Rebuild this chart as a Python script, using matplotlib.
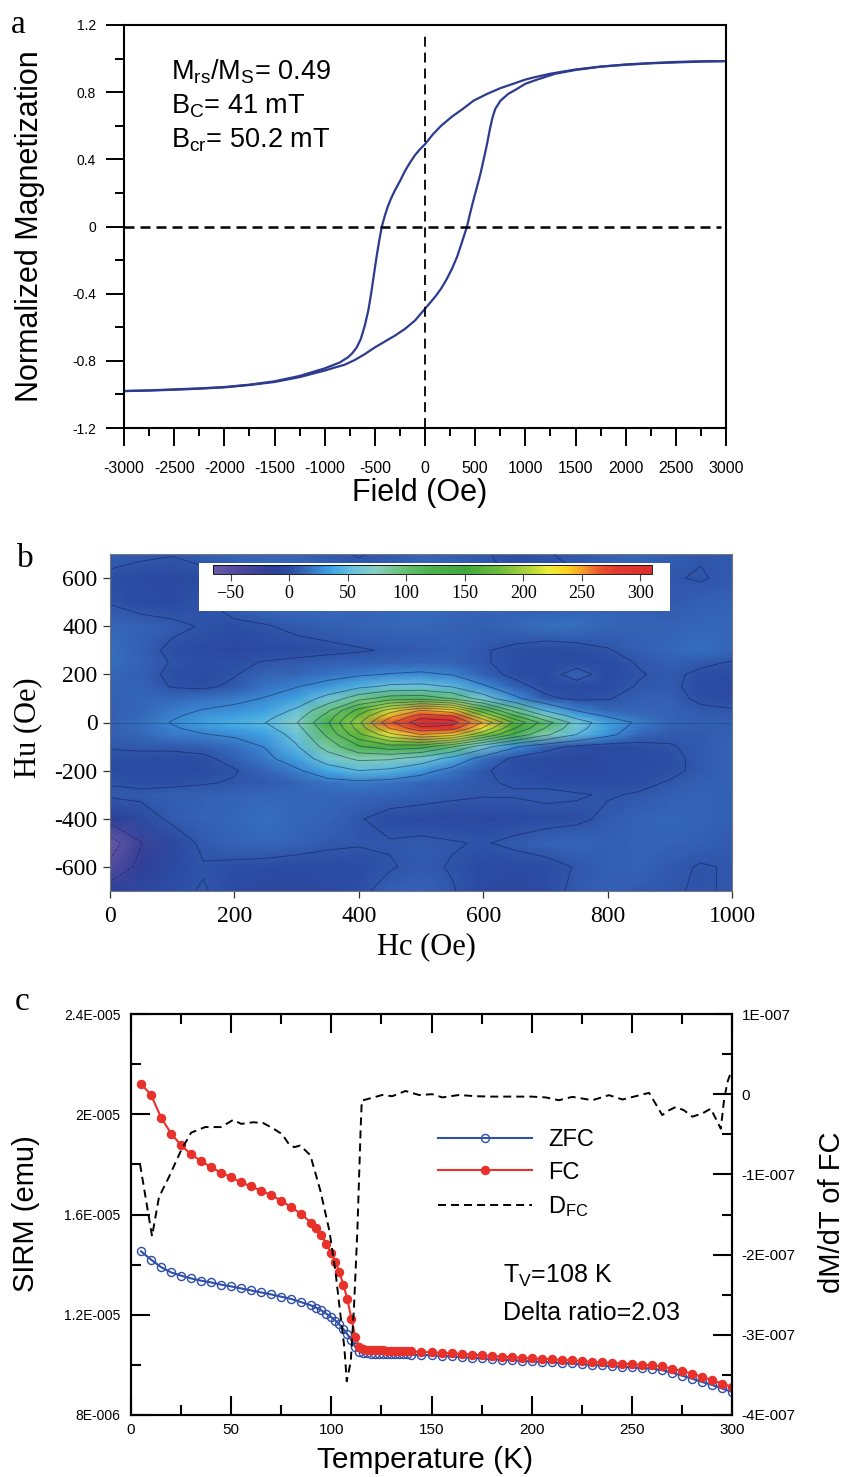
import numpy as np
import matplotlib
matplotlib.use("Agg")
import matplotlib.pyplot as plt
from matplotlib.colors import LinearSegmentedColormap, Normalize
from matplotlib.ticker import MultipleLocator
import matplotlib.cm as cm

plt.rcParams['axes.unicode_minus'] = False
plt.rcParams['font.family'] = 'Liberation Sans'
plt.rcParams['mathtext.fontset'] = 'custom'
plt.rcParams['mathtext.rm'] = 'Liberation Sans'
plt.rcParams['mathtext.it'] = 'Liberation Sans:italic'
plt.rcParams['mathtext.bf'] = 'Liberation Sans:bold'

# ---------------- Panel a : hysteresis loop ----------------
field_down = [3000, 2750, 2500, 2250, 2000, 1750, 1500, 1250, 1100, 1000, 880, 752, 620, 483, 376, 270,
              161, 80, 0, -50, -100, -150, -200, -250, -300, -340, -370, -400, -430, -455,
              -480, -510, -537, -565, -600, -640, -680, -725, -770, -850, -1000, -1250, -1500,
              -1750, -2000, -2250, -2500, -2750, -3000]
mag_down = [0.985, 0.984, 0.98, 0.973, 0.965, 0.952, 0.935, 0.91, 0.89, 0.875, 0.85, 0.824, 0.79,
            0.749, 0.70, 0.655, 0.60, 0.55, 0.49, 0.46, 0.425, 0.38, 0.33, 0.27, 0.215, 0.165, 0.12,
            0.065, 0.0, -0.08, -0.17, -0.29, -0.40, -0.50, -0.59, -0.67, -0.72, -0.755, -0.78,
            -0.81, -0.845, -0.89, -0.922, -0.942, -0.956, -0.964, -0.97, -0.976, -0.98]
field_up = [-3000, -2750, -2500, -2250, -2000, -1750, -1500, -1250, -1000, -900, -800, -700, -600,
            -500, -400, -300, -200, -100, 0, 50, 107, 160, 215, 270, 322, 370, 419, 450, 483, 520,
            553, 585, 618, 645, 671, 700, 752, 830, 913, 1000, 1128, 1300, 1500, 1750, 2000, 2250,
            2500, 2750, 3000]
mag_up = [-0.98, -0.977, -0.972, -0.966, -0.958, -0.944, -0.926, -0.897, -0.858, -0.84, -0.823,
          -0.795, -0.76, -0.72, -0.685, -0.65, -0.61, -0.56, -0.49, -0.455, -0.414, -0.37, -0.315,
          -0.25, -0.177, -0.09, 0.0, 0.08, 0.158, 0.24, 0.315, 0.40, 0.49, 0.575, 0.645, 0.70,
          0.749, 0.79, 0.818, 0.85, 0.877, 0.91, 0.932, 0.952, 0.963, 0.972, 0.977, 0.982, 0.985]
field_ticks = [-3000, -2500, -2000, -1500, -1000, -500, 0, 500, 1000, 1500, 2000, 2500, 3000]
field_labels = ['-3000', '-2500', '-2000', '-1500', '-1000', '-500', '0', '500', '1000', '1500',
                '2000', '2500', '3000']
mag_ticks = [-1.2, -0.8, -0.4, 0, 0.4, 0.8, 1.2]
mag_labels = ['-1.2', '-0.8', '-0.4', '0', '0.4', '0.8', '1.2']
loop_params = [r'M$_{\rm rs}$/M$_{\rm S}$= 0.49', r'B$_{\rm C}$= 41 mT', r'B$_{\rm cr}$= 50.2 mT']

# ---------------- Panel b : FORC diagram ----------------
hc_grid = [0, 50, 100, 150, 200, 250, 300, 350, 400, 450, 500, 550, 600, 650, 700, 750, 800, 850,
           900, 950, 1000]
hu_grid = [-700, -600, -500, -400, -300, -250, -200, -150, -100, -50, -25, 0, 25, 50, 100, 150, 200,
           250, 300, 400, 500, 600, 700]
forc_rows = [
    [-12, -4, 2, 6, 0, -4, -4, -2, 2, 10, 12, 6, -2, -4, 0, 8, 10, 8, 6, 4, 6],
    [-45, -18, -2, 4, 2, 0, -2, -2, 0, 4, 8, 4, -2, -2, 0, 6, 10, 12, 8, 4, 6],
    [-62, -26, -4, 8, 12, 14, 12, 8, 6, 6, 8, 6, 4, 8, 12, 14, 10, 12, 12, 10, 8],
    [-16, -2, 8, 12, 14, 16, 14, 12, 6, 0, -2, -4, -4, -2, 0, 2, 8, 12, 14, 12, 10],
    [8, 8, 10, 10, 12, 14, 14, 14, 14, 12, 10, 8, 6, 6, 8, 6, 4, 6, 10, 12, 10],
    [4, 2, 2, 4, 6, 8, 12, 18, 20, 18, 14, 10, 6, 4, 2, 0, 0, 2, 6, 10, 12],
    [0, -2, -2, 0, 4, 12, 22, 38, 50, 45, 32, 18, 6, 2, -2, -4, -2, 0, 2, 8, 12],
    [2, 0, 0, 2, 10, 20, 36, 62, 80, 78, 64, 42, 16, 2, -2, -4, -2, 0, 2, 8, 12],
    [6, 8, 8, 10, 16, 26, 48, 85, 122, 140, 135, 102, 60, 28, 10, 2, -2, 0, 4, 8, 12],
    [10, 14, 20, 24, 28, 36, 58, 105, 170, 218, 250, 236, 180, 120, 80, 50, 30, 14, 8, 8, 10],
    [10, 15, 23, 30, 35, 43, 66, 114, 185, 250, 292, 285, 220, 150, 98, 58, 34, 18, 10, 9, 10],
    [10, 16, 26, 36, 42, 50, 74, 122, 195, 270, 318, 312, 248, 172, 112, 64, 36, 22, 12, 10, 10],
    [10, 15, 23, 31, 36, 43, 64, 110, 180, 245, 290, 280, 205, 132, 78, 42, 24, 16, 12, 9, 8],
    [10, 14, 20, 26, 30, 36, 54, 96, 160, 212, 252, 236, 160, 92, 48, 24, 14, 12, 12, 8, 6],
    [10, 14, 14, 16, 20, 26, 36, 58, 90, 112, 115, 98, 62, 30, 8, 2, 4, 10, 10, 2, 0],
    [12, 12, 4, 2, 8, 18, 24, 32, 44, 54, 56, 48, 28, 10, 0, -2, 0, 6, 8, 0, -2],
    [14, 10, 2, 0, 4, 12, 14, 18, 22, 26, 28, 24, 10, 2, -2, 12, -2, 4, 8, 2, 0],
    [16, 12, 4, 2, 2, 6, 8, 10, 10, 12, 14, 12, 6, 2, -2, -2, 0, 6, 10, 8, 4],
    [16, 10, 2, -2, -4, -2, 0, 2, 4, 6, 8, 10, 6, 2, -2, 0, 4, 10, 14, 16, 14],
    [14, 12, 8, 4, 2, 4, 8, 10, 12, 14, 14, 12, 10, 14, 16, 16, 14, 12, 12, 14, 14],
    [4, -2, -2, 4, 12, 16, 16, 16, 14, 14, 16, 14, 12, 10, 8, 10, 12, 10, 8, 10, 12],
    [2, -2, -4, 0, 8, 14, 16, 14, 10, 10, 14, 12, 8, 4, 2, 4, 8, 10, 6, 4, 8],
    [10, 8, 6, 10, 14, 14, 12, 8, 4, 8, 12, 10, 6, 2, 4, 8, 12, 14, 10, 6, 8],
]
hc_ticks = [0, 200, 400, 600, 800, 1000]
hc_labels = ['0', '200', '400', '600', '800', '1000']
hu_ticks = [-600, -400, -200, 0, 200, 400, 600]
hu_labels = ['-600', '-400', '-200', '0', '200', '400', '600']
cbar_ticks = [-50, 0, 50, 100, 150, 200, 250, 300]
cbar_labels = ['\u221250', '0', '50', '100', '150', '200', '250', '300']
contour_levels = [-50, -25, 5, 25, 50, 75, 100, 125, 150, 175, 200, 225, 250, 275, 300]
forc_min, forc_max = -65, 310

# ---------------- Panel c : low temperature SIRM ----------------
temps = [5, 10, 15, 20, 25, 30, 35, 40, 45, 50, 55, 60, 65, 70, 75, 80, 85, 90,
         92.5, 95, 97.5,
         100, 102, 104, 106, 108, 110, 112, 114,
         116, 118, 120, 122, 124, 126, 128, 130, 132, 134, 136, 138, 140,
         145, 150, 155, 160, 165, 170, 175, 180, 185, 190, 195, 200, 205, 210, 215, 220, 225,
         230, 235, 240, 245, 250, 255, 260, 265, 270, 275, 280, 285, 290, 295, 300]
sirm_fc = [2.122, 2.077, 1.987, 1.923, 1.876, 1.840, 1.813, 1.789, 1.767, 1.748, 1.729, 1.712, 1.695,
           1.677, 1.655, 1.629, 1.602, 1.566,
           1.545, 1.520, 1.482,
           1.445, 1.412, 1.370, 1.320, 1.262, 1.185, 1.112, 1.073,
           1.063, 1.061, 1.060, 1.059, 1.058, 1.058, 1.057, 1.057, 1.056, 1.056, 1.055, 1.055, 1.054,
           1.052, 1.050, 1.048, 1.046, 1.043, 1.041, 1.038, 1.035, 1.033, 1.031, 1.028, 1.026, 1.024,
           1.022, 1.020, 1.018, 1.015, 1.012, 1.010, 1.007, 1.005, 1.002, 1.000, 0.998, 0.994, 0.985,
           0.976, 0.965, 0.952, 0.939, 0.925, 0.912]
sirm_zfc = [1.453, 1.420, 1.390, 1.369, 1.356, 1.345, 1.336, 1.329, 1.320, 1.313, 1.305, 1.297, 1.289,
            1.281, 1.272, 1.263, 1.250, 1.237,
            1.228, 1.217, 1.204,
            1.190, 1.177, 1.162, 1.143, 1.122, 1.099, 1.071, 1.052,
            1.047, 1.046, 1.045, 1.045, 1.044, 1.044, 1.043, 1.043, 1.043, 1.042, 1.042, 1.042, 1.041,
            1.040, 1.038, 1.036, 1.034, 1.031, 1.029, 1.026, 1.023, 1.021, 1.019, 1.016, 1.014, 1.012,
            1.010, 1.008, 1.006, 1.003, 1.000, 0.998, 0.995, 0.993, 0.990, 0.988, 0.985, 0.979, 0.969,
            0.957, 0.945, 0.932, 0.920, 0.906, 0.892]
sirm_unit = 1e-5
temp_d = [4.5, 10.5, 14, 19, 25, 30, 37, 45, 51, 55, 61, 66, 70.5, 75.5, 79, 81.5, 84.5, 89.5, 94.5, 99,
          102, 104.5, 106.5, 107.7, 109.7, 111.3, 113, 114.6, 115.2, 119.6, 125.4, 130.4, 137, 143.8,
          150.4, 155.4, 163.7, 172, 180, 190, 200, 207, 213.6, 220.3, 230.3, 238.6, 245.3, 251.9,
          258.6, 265.2, 268.6, 271.9, 276, 280.2, 285.2, 289.4, 294.4, 296, 297.7, 299]
dfc = [-0.87, -1.77, -1.28, -1.03, -0.70, -0.48, -0.41, -0.41, -0.32, -0.37, -0.35, -0.36, -0.42, -0.50,
       -0.63, -0.66, -0.64, -0.76, -1.20, -1.70, -2.20, -2.74, -3.16, -3.58, -3.33, -2.66, -1.70, -0.45,
       -0.08, -0.05, -0.01, -0.025, 0.04, -0.01, 0.0, -0.04, -0.01, -0.025, -0.03, -0.03, -0.03, -0.04,
       -0.075, -0.033, -0.075, -0.012, -0.066, -0.025, 0.017, -0.26, -0.20, -0.16, -0.20, -0.28, -0.24,
       -0.18, -0.43, -0.08, 0.15, 0.24]
dfc_unit = 1e-7
temp_ticks = [0, 50, 100, 150, 200, 250, 300]
temp_labels = ['0', '50', '100', '150', '200', '250', '300']
sirm_ticks = [0.8e-5, 1.2e-5, 1.6e-5, 2.0e-5, 2.4e-5]
sirm_labels = ['8E-006', '1.2E-005', '1.6E-005', '2E-005', '2.4E-005']
dfc_ticks = [-4e-7, -3e-7, -2e-7, -1e-7, 0, 1e-7]
dfc_labels = ['-4E-007', '-3E-007', '-2E-007', '-1E-007', '0', '1E-007']
series_names = ['ZFC', 'FC', r'D$_{\rm FC}$']
notes_c = [r'T$_{\rm V}$=108 K', 'Delta ratio=2.03']

# ---------------- figure ----------------
W, H = 848, 1477
fig = plt.figure(figsize=(W / 100, H / 100), dpi=100)


def fx(x):
    return x / W


def fy(y):
    return 1 - y / H


def box(l, t, r, b):
    return [fx(l), fy(b), (r - l) / W, (b - t) / H]


# ===== Panel a =====
ax1 = fig.add_axes(box(124, 25, 726, 428))
navy = '#2c3b8f'
ax1.plot(field_down, mag_down, color=navy, lw=1.6)
ax1.plot(field_up, mag_up, color=navy, lw=1.6)
ax1.axhline(0, xmin=0, xmax=0.992, color='black', lw=1.8, linestyle=(0, (4, 2.4)))
ax1.axvline(0, ymin=0, ymax=0.975, color='black', lw=1.3, linestyle=(0, (5.5, 3.3)))
ax1.set_xlim(-3000, 3000)
ax1.set_ylim(-1.2, 1.2)
ax1.set_xticks(field_ticks, field_labels)
ax1.set_yticks(mag_ticks, mag_labels)
ax1.xaxis.set_minor_locator(MultipleLocator(250))
ax1.yaxis.set_minor_locator(MultipleLocator(0.2))
ax1.tick_params(axis='x', which='major', direction='out', length=13, width=1.4, pad=10.5, labelsize=11.5)
ax1.tick_params(axis='x', which='minor', direction='out', length=6, width=1.4)
ax1.tick_params(axis='y', which='major', direction='out', length=13, width=1.4, pad=7, labelsize=10)
ax1.tick_params(axis='y', which='minor', direction='out', length=6.5, width=1.4)
for s in ax1.spines.values():
    s.set_linewidth(1.5)
for i, txt in enumerate(loop_params):
    fig.text(fx(171), fy(80 + 34 * i), txt, fontsize=19.5, va='baseline', ha='left')
fig.text(fx(30), fy(226), 'Normalized Magnetization', rotation=90, fontsize=22, ha='center', va='center')
fig.text(fx(420), fy(493), 'Field (Oe)', fontsize=22, ha='center', va='center')
fig.text(fx(18), fy(33), 'a', fontsize=24, family='Liberation Serif', ha='center', va='baseline')

# ===== Panel b =====
forc_colors = [
    (-65, '#6a5aa8'), (-40, '#4a469c'), (-15, '#2d3e96'), (0, '#2b4ca3'), (12, '#3564b6'),
    (25, '#3a86d2'), (38, '#40a8e4'), (55, '#6cc2dc'), (75, '#88cec0'), (95, '#6ac27c'),
    (120, '#4cb24c'), (150, '#3fa83c'), (180, '#6cbb3c'), (205, '#b0d43a'), (222, '#eeec3a'),
    (238, '#f8d21e'), (252, '#f29a2c'), (266, '#e8542c'), (280, '#e03a30'), (310, '#dc2e2e')]
cmap = LinearSegmentedColormap.from_list(
    'forc', [((v - forc_min) / (forc_max - forc_min), c) for v, c in forc_colors])
norm = Normalize(vmin=forc_min, vmax=forc_max)

ax2 = fig.add_axes(box(110, 554, 732, 891))
HC, HU = np.meshgrid(np.array(hc_grid, float), np.array(hu_grid, float))
Z = np.array(forc_rows, float)
ax2.pcolormesh(HC, HU, Z, shading='gouraud', cmap=cmap, norm=norm, rasterized=True)
ax2.contour(HC, HU, Z, levels=contour_levels, colors='#0e1848', linewidths=0.65, alpha=0.5)
ax2.axhline(0, color='#1d4f7a', lw=0.8, alpha=0.6)
ax2.set_xlim(0, 1000)
ax2.set_ylim(-700, 700)
ax2.set_xticks(hc_ticks, hc_labels, family='Liberation Serif', fontsize=17)
ax2.set_yticks(hu_ticks, hu_labels, family='Liberation Serif', fontsize=17)
ax2.tick_params(axis='x', direction='out', length=5, width=0.9, pad=6, color='#333333')
ax2.tick_params(axis='y', direction='out', length=5, width=0.9, pad=4, color='#333333')
for s in ax2.spines.values():
    s.set_linewidth(0.8)
    s.set_color('#777777')
fig.text(fx(28), fy(728), 'Hu (Oe)', rotation=90, fontsize=22, family='Liberation Serif',
         ha='center', va='center')
fig.text(fx(426), fy(947), 'Hc (Oe)', fontsize=22, family='Liberation Serif', ha='center', va='center')
fig.text(fx(25), fy(567), 'b', fontsize=24, family='Liberation Serif', ha='center', va='baseline')

# colorbar inset
bg = fig.add_axes(box(199, 563, 670, 611))
bg.set_facecolor('white')
bg.set_xticks([])
bg.set_yticks([])
for s in bg.spines.values():
    s.set_visible(False)
cax = fig.add_axes(box(213, 565, 652, 574))
cb = fig.colorbar(cm.ScalarMappable(norm=norm, cmap=cmap), cax=cax, orientation='horizontal',
                  ticks=cbar_ticks)
cb.ax.set_xticklabels(cbar_labels, family='Liberation Serif', fontsize=13)
cb.outline.set_linewidth(0.6)
cax.tick_params(direction='out', length=5, width=0.8, pad=3, color='#444444')

# ===== Panel c =====
ax3 = fig.add_axes(box(131, 1014, 732, 1415))
blue = '#2f4fa8'
red = '#e8312a'
T = np.array(temps, float)
l_zfc, = ax3.plot(T, np.array(sirm_zfc) * sirm_unit, color=blue, lw=1.5, marker='o', ms=5.8,
                  mfc='none', mec=blue, mew=1.0, zorder=3)
l_fc, = ax3.plot(T, np.array(sirm_fc) * sirm_unit, color=red, lw=1.5, marker='o', ms=5.8,
                 mfc=red, mec=red, zorder=4)
ax3.set_xlim(0, 300)
ax3.set_ylim(0.8e-5, 2.4e-5)
ax3.set_xticks(temp_ticks, temp_labels)
ax3.set_yticks(sirm_ticks, sirm_labels)
ax3.xaxis.set_minor_locator(MultipleLocator(25))
ax3.yaxis.set_minor_locator(MultipleLocator(0.2e-5))
ax3.tick_params(axis='both', which='major', direction='in', length=14, width=1.5, top=True)
ax3.tick_params(axis='both', which='minor', direction='in', length=7, width=1.5, top=True)
ax3.tick_params(axis='x', which='major', labelsize=11, pad=6)
ax3.tick_params(axis='y', which='major', labelsize=10, pad=7.5)
for s in ax3.spines.values():
    s.set_linewidth(1.5)

ax3r = ax3.twinx()
l_d, = ax3r.plot(np.array(temp_d), np.array(dfc) * dfc_unit, color='black', lw=1.4,
                 linestyle=(0, (4.1, 2.6)))
ax3r.set_ylim(-4e-7, 1e-7)
ax3r.set_yticks(dfc_ticks, dfc_labels)
ax3r.yaxis.set_minor_locator(MultipleLocator(0.5e-7))
ax3r.tick_params(axis='y', which='major', direction='in', length=14, width=1.5, labelsize=11, pad=7)
ax3r.tick_params(axis='y', which='minor', direction='in', length=7, width=1.5)
for s in ax3r.spines.values():
    s.set_linewidth(1.5)

leg = ax3r.legend([l_zfc, l_fc, l_d], series_names, loc='upper left',
                  bbox_to_anchor=((438 - 131) / 601, (1415 - 1129) / 401), frameon=False,
                  fontsize=17, handlelength=4.0, handletextpad=0.68, labelspacing=0.45,
                  borderpad=0, borderaxespad=0, numpoints=1)
for i, txt in enumerate(notes_c):
    fig.text(fx(503), fy(1283 + 37 * i), txt, fontsize=18, ha='left', va='baseline')

fig.text(fx(26), fy(1214), 'SIRM (emu)', rotation=90, fontsize=21, ha='center', va='center')
fig.text(fx(425), fy(1460), 'Temperature (K)', fontsize=21.5, ha='center', va='center')
fig.text(fx(832), fy(1212), 'dM/dT of FC', rotation=90, fontsize=21, ha='center', va='center')
fig.text(fx(22), fy(1010), 'c', fontsize=24, family='Liberation Serif', ha='center', va='baseline')

fig.savefig('out.png', dpi=100)
